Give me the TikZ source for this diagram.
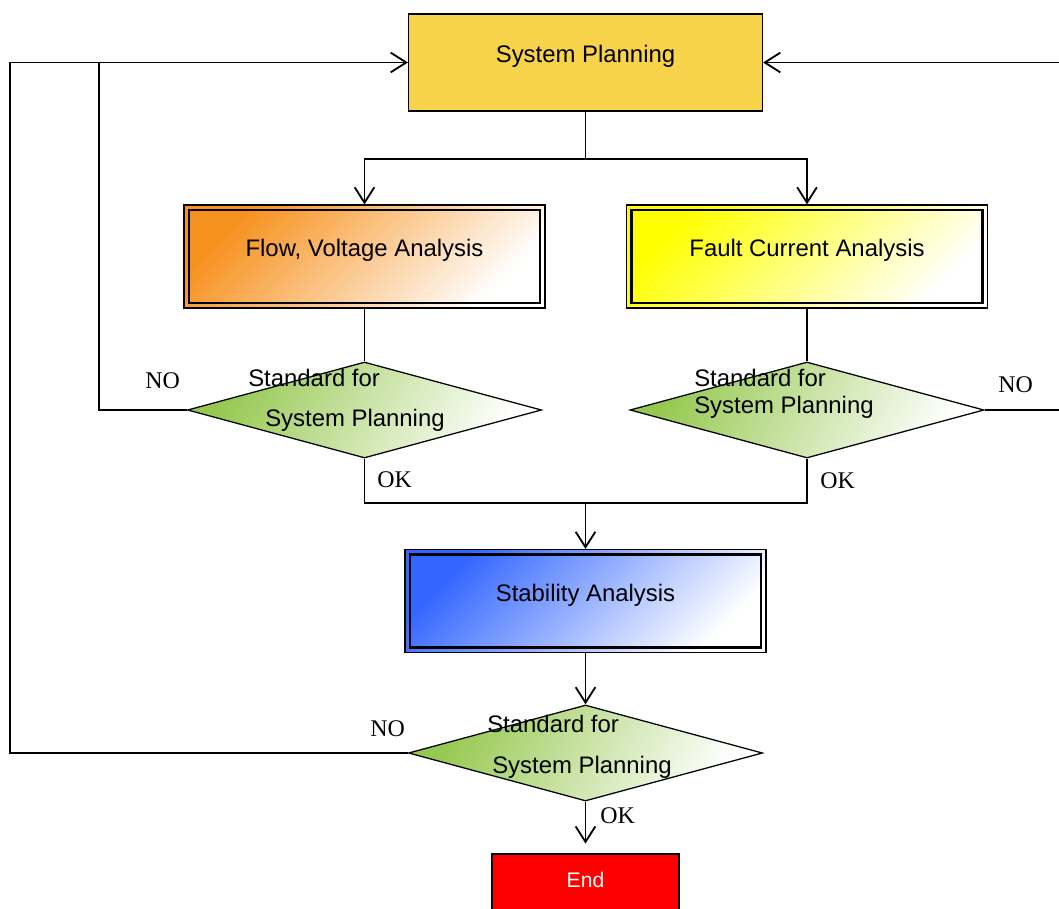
\documentclass[tikz,border=0pt]{standalone}
\usepackage{fontspec}
\setmainfont{Liberation Sans}
\newfontfamily\okfont{Liberation Serif}
\usetikzlibrary{shapes.geometric, arrows.meta}
\definecolor{planGold}{RGB}{246,211,74}
\definecolor{flowOrange}{RGB}{247,145,30}
\definecolor{faultYellow}{RGB}{255,255,0}
\definecolor{stabBlue}{RGB}{51,102,255}
\definecolor{checkGreen}{RGB}{150,200,80}
\definecolor{endRed}{RGB}{255,0,0}
\tikzset{
    font=\fontsize{17}{20}\selectfont,
    >={Straight Barb[length=11pt, width=14pt]},
    % Boxes
    box/.style={rectangle, draw, line width=0.8pt, inner sep=0pt,
                text height=.5em, text depth=.5em, align=center},
    dbox/.style={box, minimum width=9.025cm, minimum height=2.575cm},
    check/.style={diamond, draw, line width=0.9pt, inner sep=0pt,
                  minimum width=8.85cm, minimum height=2.4cm,
                  top color=checkGreen, bottom color=white, shading angle=60},
    % Texts
    ask/.style={anchor=base west, inner sep=0pt},
    ans/.style={anchor=base west, inner sep=0pt, font=\okfont\fontsize{17}{20}\selectfont},
    link/.style={line width=1.3pt}
}
\begin{document}
\begin{tikzpicture}[x=0.025cm, y=-0.025cm]
\useasboundingbox (0,0) rectangle (1059,908);

\node[box, fill=planGold, minimum width=8.85cm, minimum height=2.425cm] (plan) at (585.5,62.5) {System Planning};
\node[dbox, top color=flowOrange, bottom color=white, shading angle=45] (flowan) at (364.5,256.5) {Flow, Voltage Analysis};
\node[dbox, top color=faultYellow, bottom color=white, shading angle=45] (fault) at (807,256.5) {Fault Current Analysis};
\node[dbox, top color=stabBlue, bottom color=white, shading angle=45] (stab) at (585.5,601) {Stability Analysis};
\node[box, fill=endRed, text=white, minimum width=4.675cm, minimum height=1.4cm,
      text height=.72em, text depth=0pt, font=\fontsize{15}{18}\selectfont] (fin) at (585.5,882) {End};

% inner frames
\foreach \n in {flowan,fault,stab}
  \draw[line width=2pt] ([shift={(.14cm,-.14cm)}]\n.north west) rectangle ([shift={(-.14cm,.14cm)}]\n.south east);

\node[check] (chk1) at (364.5,410) {};
\node[check] (chk2) at (807,410) {};
\node[check] (chk3) at (585.5,753) {};

\node[ask] (q1a) at (248,386) {Standard for};
\node[ask] (q1b) at (265,426) {System Planning};
\node[ask] (q2a) at (694,386.5) {Standard for};
\node[ask] (q2b) at (694,413) {System Planning};
\node[ask] (q3a) at (487,732) {Standard for};
\node[ask] (q3b) at (492,773) {System Planning};

\node[ans] (no1) at (145,388) {NO};
\node[ans] (ok1) at (377,487) {OK};
\node[ans] (no2) at (998,392) {NO};
\node[ans] (ok2) at (820,488) {OK};
\node[ans] (no3) at (370,736) {NO};
\node[ans] (ok3) at (600,823) {OK};

\coordinate (split) at (585.5,159);
\coordinate (okjoin) at (585.5,503);
\coordinate (loopL) at (10,62.5);
\coordinate (loopM) at (99,62.5);
\coordinate (loopR) at (1063,62.5);

\draw[link] (plan) -- (split);
\draw[link, ->] (split) -| (flowan);
\draw[link, ->] (split) -| (fault);
\draw[link] (flowan) -- (chk1);
\draw[link] (fault) -- (chk2);
\draw[link] (chk1.south) |- (okjoin);
\draw[link] (chk2.south) |- (okjoin);
\draw[link, ->] (okjoin) -- (stab);
\draw[link, ->] (stab) -- (chk3);
\draw[link, ->, shorten >=7pt] (chk3) -- (fin);
\draw[link] (chk1.west) -| (loopM);
\draw[link, ->] (chk3.west) -| (loopL) -- (plan);
\draw[link, ->] (chk2.east) -| (loopR) -- (plan);

\end{tikzpicture}
\end{document}
